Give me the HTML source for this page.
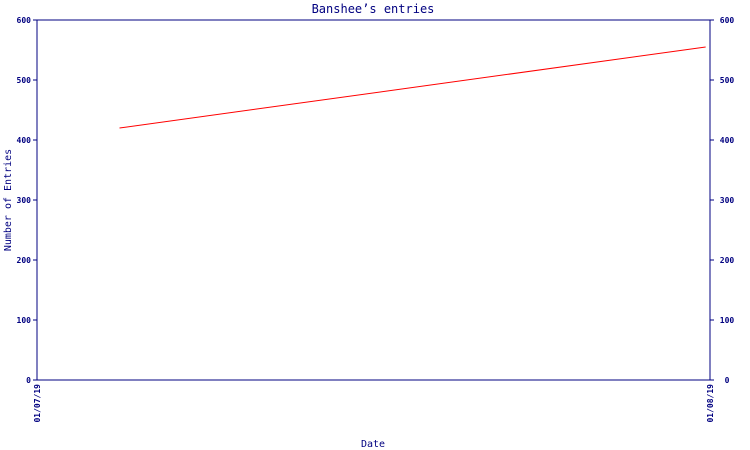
<!DOCTYPE html>
<html><head><meta charset="utf-8"><style>
body{margin:0;background:#fff;}
svg{display:block;font-family:"DejaVu Sans Mono","Liberation Mono",monospace;}
</style></head><body>
<svg id="chart" width="750" height="450" xmlns="http://www.w3.org/2000/svg">
<text x="373" y="13" text-anchor="middle" font-size="12" fill="#000080">Banshee’s entries</text>
<rect x="37" y="20" width="673" height="360" fill="none" stroke="#000080" stroke-width="1"/>
<text transform="translate(11,200) rotate(-90)" text-anchor="middle" font-size="10" fill="#000080">Number of Entries</text>
<text x="373" y="447" text-anchor="middle" font-size="10" fill="#000080">Date</text>
<g id="ticks"></g>
<g id="series"></g>
</svg>
<script>
const yTicks=[0,100,200,300,400,500,600];
const xTickLabels=["01/07/19","01/08/19"];
const xTickDays=[0,31];
const seriesDays=[3.8,30.8];
const seriesValues=[420,555];
const X0=37,X1=710,Y0=380,Y1=20,DMAX=31,VMAX=600;
const xs=d=>X0+(X1-X0)*d/DMAX;
const ys=v=>Y0-(Y0-Y1)*v/VMAX;
const ns="http://www.w3.org/2000/svg";
const tg=document.getElementById('ticks');
function mk(tag,attrs,parent){const e=document.createElementNS(ns,tag);for(const k in attrs)e.setAttribute(k,attrs[k]);parent.appendChild(e);return e;}
yTicks.forEach(v=>{
  const y=ys(v);
  const l=mk('line',{x1:X0-4,x2:X0,y1:y,y2:y,stroke:'#000080'},tg);
  
  
  const r=mk('line',{x1:X1,x2:X1+4,y1:y,y2:y,stroke:'#000080'},tg);
  
  
  const t=mk('text',{x:X0-6,y:y+3,'text-anchor':'end','font-size':'8','font-weight':'bold',fill:'#000080'},tg);
  t.textContent=v;
  
  
  const t2=mk('text',{x:X1+17,y:y+3,'text-anchor':'middle','font-size':'8','font-weight':'bold',fill:'#000080'},tg);
  t2.textContent=v;
  
  
});
xTickDays.forEach((d,i)=>{
  const x=xs(d);
  const t=mk('text',{transform:`translate(${x+3},${Y0+4}) rotate(-90)`,'text-anchor':'end','font-size':'8','font-weight':'bold',fill:'#000080'},tg);
  t.textContent=xTickLabels[i];
  
  
});
const sg=document.getElementById('series');
const pts=seriesDays.map((d,i)=>xs(d)+','+ys(seriesValues[i])).join(' ');
const pl=mk('polyline',{points:pts,fill:'none',stroke:'#ff0000','stroke-width':'1'},sg);


</script>
</body></html>
